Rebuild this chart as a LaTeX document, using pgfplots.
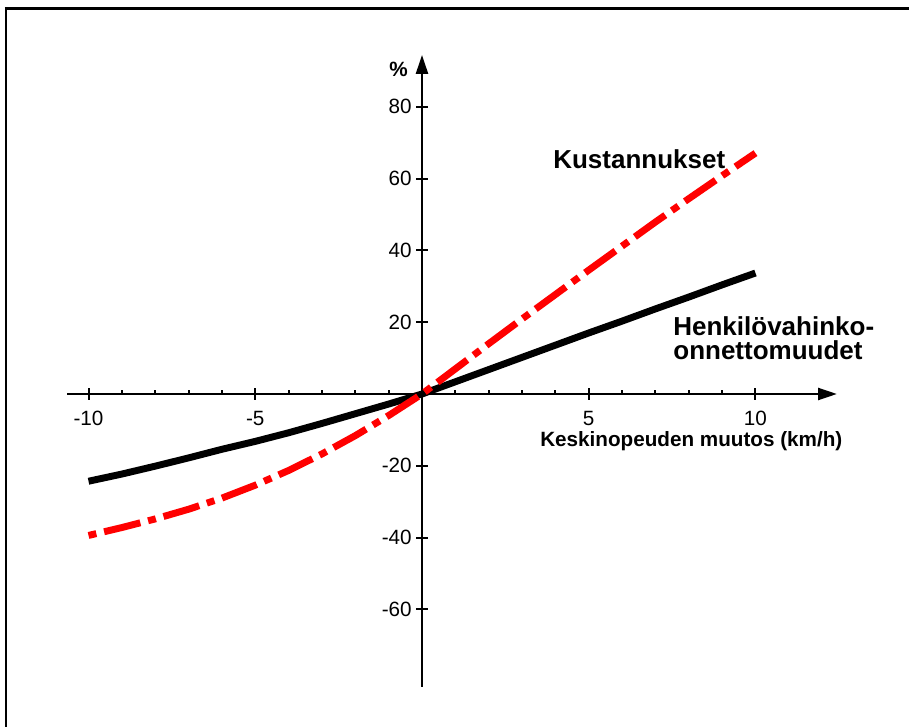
\documentclass[border=0pt]{standalone}
\usepackage{fontspec}
\setmainfont{Liberation Sans}
\usepackage{pgfplots}
\pgfplotsset{compat=1.18}
\usetikzlibrary{arrows.meta}

\begin{document}
\begin{tikzpicture}
\useasboundingbox (-316.5pt,-249.75pt) rectangle (365.25pt,295.5pt);
\draw[line width=2.25pt] (-312.75pt,289pt) -- (365.25pt,289pt);
\draw[line width=1.5pt] (-312pt,289pt) -- (-312pt,-249.75pt);
\begin{axis}[
  anchor=origin, at={(0pt,0pt)},
  x=25.01pt, y=2.6925pt,
  axis lines=middle,
  clip=false,
  xmin=-10.64, xmax=12.44, ymin=-81.6, ymax=94.4,
  axis line style={line width=1.5pt, -{Triangle[length=14pt,width=9pt]}},
  xtick={-10,-5,5,10}, xticklabels={-10,-5,5,10},
  ytick={-60,-40,-20,20,40,60,80}, yticklabels={-60,-40,-20,20,40,60,80},
  extra x ticks={-9,-8,-7,-6,-4,-3,-2,-1,1,2,3,4,6,7,8,9},
  extra x tick labels={},
  extra x tick style={tick align=inside, major tick length=3pt},
  tick align=center,
  major tick length=9pt,
  tick style={black, line width=1.5pt},
  ticklabel style={font=\fontsize{15.5}{18}\selectfont, inner sep=0pt},
  xticklabel style={anchor=north, yshift=-8pt},
  yticklabel style={anchor=east, xshift=-3pt},
]
\addplot[black, line width=5.2pt, line cap=butt, line join=round] coordinates {
(-10,-24.3) (-9,-22.3) (-8,-20.1) (-7,-17.8) (-6,-15.4) (-5,-13.2) (-4,-10.8)
(-3,-8.2) (-2,-5.5) (-1,-2.8) (0,0) (1,3.4) (2,6.8) (3,10.2) (4,13.6) (5,17.0)
(6,20.3) (7,23.7) (8,27.0) (9,30.4) (10,33.7)
};
\addplot[red, line width=5.2pt, line cap=butt, line join=round,
  dash pattern=on 6pt off 6pt on 28pt off 6pt] coordinates {
(-10,-39.4) (-9,-37.2) (-8,-34.8) (-7,-32.1) (-6,-29.0) (-5,-25.4) (-4,-21.3)
(-3,-16.7) (-2,-11.6) (-1,-6.0) (0,0) (1,7.0) (2,14.0) (3,20.9) (4,27.7)
(5,34.5) (6,41.2) (7,47.9) (8,54.4) (9,60.8) (10,67.1)
};
\node[anchor=base west, inner sep=0pt, font=\bfseries\fontsize{19.5}{23}\selectfont] at (axis cs:3.93,62.7) {Kustannukset};
\node[anchor=base west, inner sep=0pt, font=\bfseries\fontsize{19.5}{23}\selectfont] at (axis cs:7.53,16.4) {Henkilövahinko-};
\node[anchor=base west, inner sep=0pt, font=\bfseries\fontsize{19.5}{23}\selectfont] at (axis cs:7.53,9.5) {onnettomuudet};
\node[anchor=base west, inner sep=0pt, font=\bfseries\fontsize{15.5}{18}\selectfont] at (axis cs:3.54,-14.5) {Keskinopeuden muutos (km/h)};
\node[anchor=base east, inner sep=0pt, font=\bfseries\fontsize{15.5}{18}\selectfont] at (axis cs:-0.42,88.3) {\%};
\end{axis}
\end{tikzpicture}
\end{document}
